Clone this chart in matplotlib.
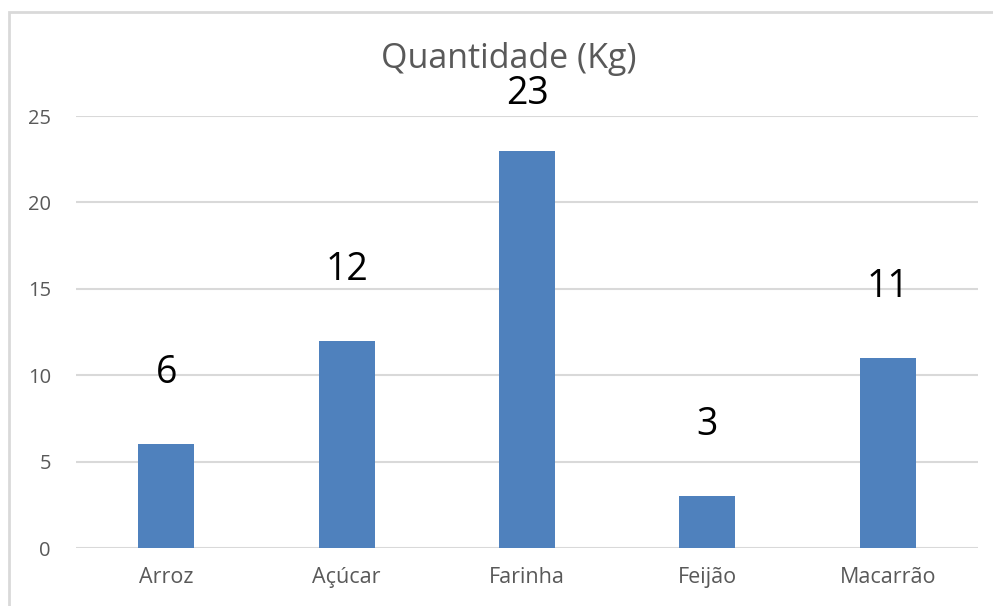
import matplotlib.pyplot as plt
import matplotlib.patches as mpatches

categories = ['Arroz', 'Açúcar', 'Farinha', 'Feijão', 'Macarrão']
values = [6, 12, 23, 3, 11]
y_ticks = [0, 5, 10, 15, 20, 25]

W, H = 993, 606
fig = plt.figure(figsize=(W / 100, H / 100), dpi=100)
fig.patch.set_facecolor('white')
plt.rcParams['font.family'] = ['Open Sans', 'DejaVu Sans']

# chart frame (runs off the right and bottom edges)
fig.patches.append(mpatches.Rectangle((9 / W, -0.1), 1.2, 1.1 - 12 / H,
                                      transform=fig.transFigure, fill=False,
                                      edgecolor='#d9d9d9', linewidth=2))

ax = fig.add_axes([76 / W, (H - 548) / H, 902 / W, 432 / H])
x = range(len(categories))
ax.bar(x, values, width=0.31, color='#4f81bd', zorder=3)

# value labels sit ~4 units above the bar, kept below the title
for xi, v in zip(x, values):
    ax.text(xi, min(v + 4.1, 26.3), str(v), ha='center', va='center',
            fontsize=27, color='black', clip_on=False)

ax.set_xlim(-0.5, len(categories) - 0.5)
ax.set_ylim(0, 25)
ax.set_yticks(y_ticks)
ax.set_xticks(list(x))
ax.set_xticklabels(categories)
ax.tick_params(axis='both', length=0, labelcolor='#595959')
ax.tick_params(axis='y', pad=18, labelsize=14.5)
ax.tick_params(axis='x', pad=14, labelsize=15.5)
ax.grid(axis='y', color='#d9d9d9', linewidth=1.5, zorder=0)
for s in ax.spines.values():
    s.set_visible(False)

fig.text(509 / W, 1 - 59 / H, 'Quantidade (Kg)', ha='center', va='center',
         fontsize=24.5, color='#595959')

fig.savefig('out.png', dpi=100, facecolor='white')
